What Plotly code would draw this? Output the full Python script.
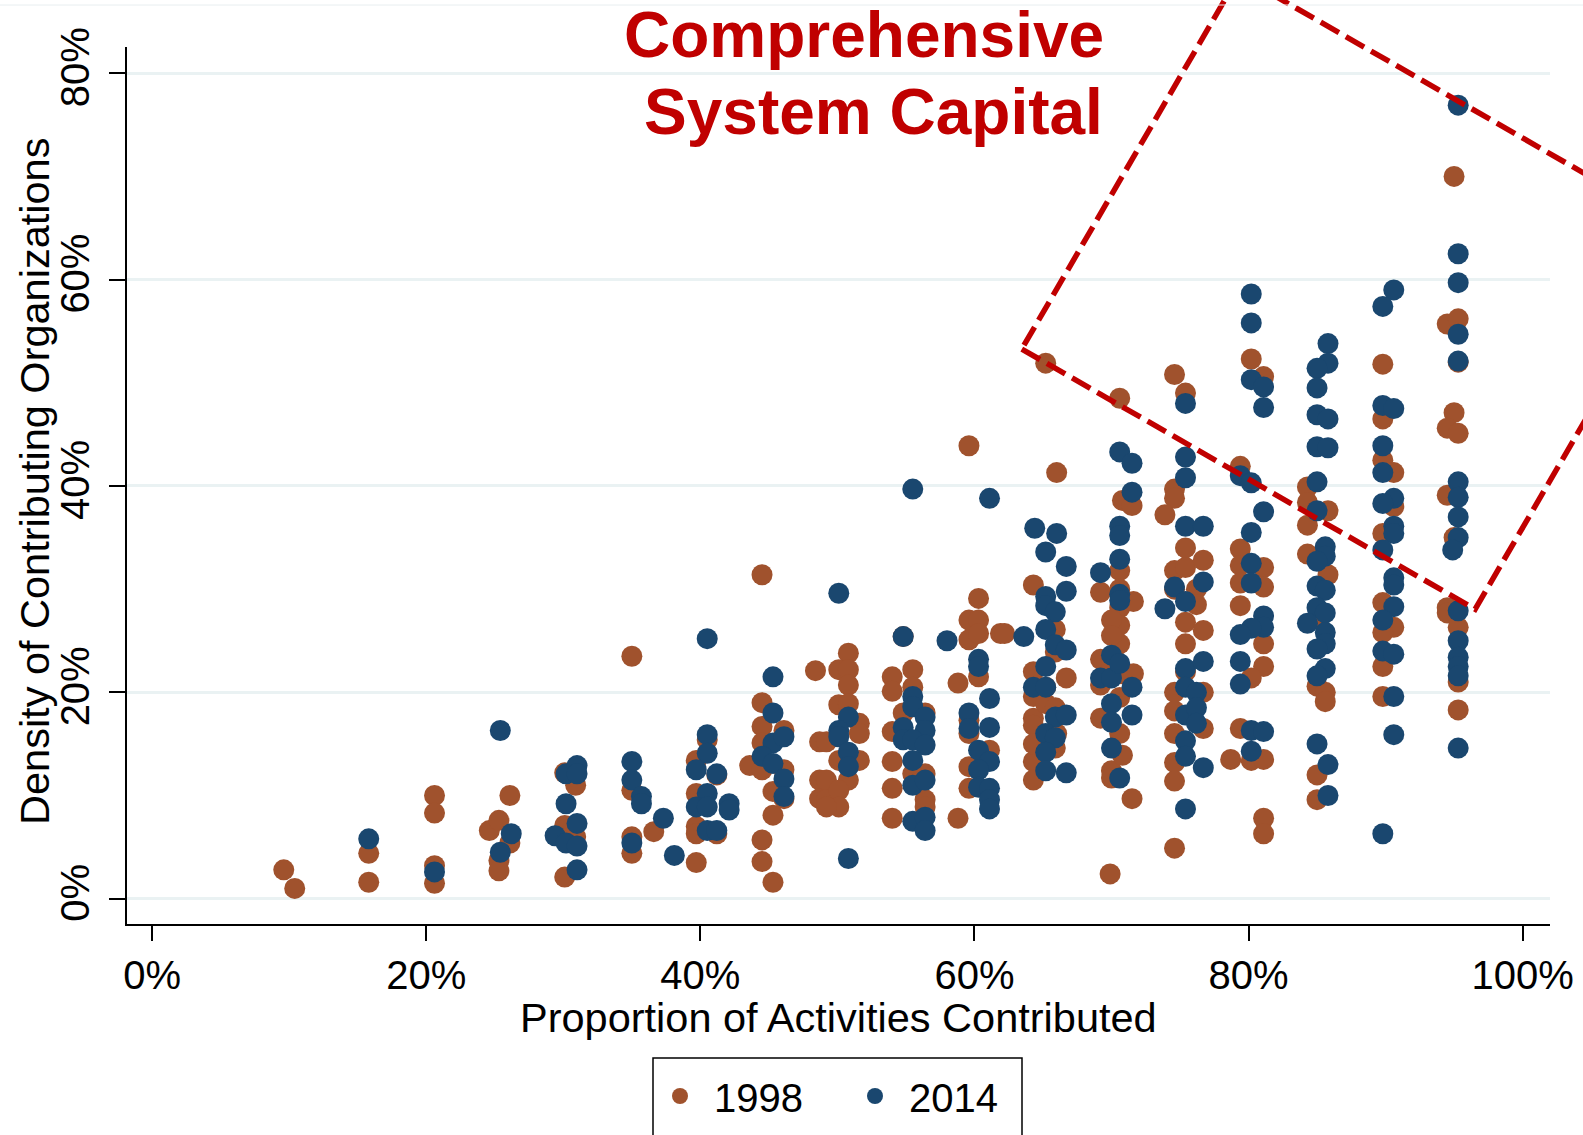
import plotly.graph_objects as go

# ---------------- data (percent units) ----------------
pts_1998 = [
    (9.6, 2.8), (10.4, 1.0),
    (15.8, 4.4), (15.8, 1.6),
    (20.6, 10.0), (20.6, 8.3), (20.6, 3.2), (20.6, 1.5),
    (24.6, 6.6), (25.3, 7.6), (25.3, 3.7), (25.3, 2.7), (26.1, 10.0), (26.1, 5.4),
    (30.1, 12.2), (30.1, 7.1), (30.1, 2.1), (30.9, 6.0), (30.9, 11.0),
    (35.0, 23.5), (35.0, 10.5), (35.0, 6.0), (35.0, 4.4), (36.6, 6.5),
    (39.7, 13.4), (39.7, 10.2), (39.7, 7.0), (39.7, 6.3), (39.7, 3.5), (40.5, 15.4), (41.2, 12.0), (41.2, 6.3),
    (44.5, 31.4), (44.5, 19.0), (44.5, 16.7), (44.5, 15.1), (43.6, 12.9), (44.5, 12.5), (45.3, 10.4),
    (45.3, 8.1), (44.5, 5.7), (44.5, 3.6), (45.3, 1.6), (46.1, 12.5), (46.1, 9.7), (46.1, 16.3), (48.4, 22.1),
    (48.7, 15.2), (48.7, 11.5), (48.7, 9.7), (50.8, 23.8), (50.1, 22.2), (50.8, 22.2), (50.8, 20.7),
    (50.1, 18.8), (50.8, 18.9), (51.6, 17.0), (51.6, 16.0), (49.2, 15.2), (50.1, 13.4), (51.6, 13.4),
    (49.2, 11.5), (50.8, 11.5), (49.2, 9.6), (50.1, 10.5), (50.1, 8.9), (49.2, 8.9),
    (54.8, 25.4), (54.0, 21.5), (55.5, 22.2), (54.0, 20.1), (55.5, 20.5), (54.8, 18.0), (56.4, 18.0),
    (54.0, 16.2), (54.0, 13.3), (56.4, 12.1), (55.5, 12.1), (54.0, 10.7), (56.4, 9.6), (56.4, 8.9), (54.0, 7.8),
    (59.6, 43.9), (60.3, 29.1), (59.6, 27.0), (60.3, 27.0), (61.9, 25.7), (59.6, 25.1), (60.3, 25.7),
    (60.3, 21.5), (58.8, 20.9), (59.6, 17.3), (59.6, 16.0), (61.1, 14.4), (59.6, 12.8), (59.6, 10.7), (58.8, 7.8),
    (65.2, 51.9), (66.0, 41.3), (64.3, 30.4), (65.9, 26.1), (65.9, 23.9), (66.7, 21.4), (64.3, 19.6),
    (64.3, 17.5), (64.3, 16.8), (65.2, 18.9), (65.9, 18.5), (65.9, 14.6), (64.3, 13.3), (64.3, 11.5),
    (62.2, 25.7), (64.3, 22.0), (65.2, 20.5), (66.0, 16.0), (64.3, 15.0),
    (70.6, 48.5), (70.8, 38.6), (71.5, 38.1), (69.2, 29.7), (70.6, 31.8), (70.6, 30.0), (70.6, 28.2),
    (70.6, 26.5), (70.6, 24.7), (71.6, 28.8), (69.2, 23.2), (69.2, 20.7), (69.2, 17.5), (70.0, 12.4),
    (70.0, 11.7), (70.8, 13.9), (71.5, 9.7), (69.9, 2.4), (70.8, 21.8), (71.6, 21.8), (70.0, 27.0),
    (70.0, 25.5), (70.0, 23.0), (70.6, 19.5), (70.6, 16.0),
    (74.6, 50.8), (75.4, 49.0), (74.6, 39.7), (74.6, 38.8), (73.9, 37.2), (74.6, 31.8), (74.6, 30.0),
    (75.4, 34.0), (75.4, 32.1), (76.7, 32.8), (75.4, 26.8), (75.4, 24.7), (74.6, 20.0), (74.6, 18.2),
    (74.6, 16.0), (74.6, 13.2), (74.6, 11.4), (74.6, 4.9), (76.2, 30.0), (76.2, 28.5), (76.7, 26.0),
    (76.7, 20.0), (75.4, 22.0), (76.7, 16.5),
    (80.2, 52.3), (81.1, 50.6), (79.4, 41.9), (79.4, 33.9), (79.4, 32.3), (81.1, 32.1), (79.4, 30.6),
    (81.1, 30.2), (79.4, 28.4), (81.1, 24.7), (81.1, 22.5), (80.2, 21.4), (79.4, 16.5), (78.7, 13.5),
    (80.2, 13.4), (81.1, 13.5), (81.1, 7.8), (81.1, 6.3),
    (84.3, 39.9), (84.3, 38.4), (84.3, 36.2), (85.8, 37.6), (84.3, 33.4), (85.8, 31.4), (85.0, 27.1),
    (85.0, 20.6), (85.6, 20.0), (85.6, 19.1), (85.0, 12.0), (85.0, 9.6),
    (89.8, 51.8), (89.8, 46.5), (89.8, 42.5), (90.6, 41.3), (89.8, 35.4), (89.8, 28.7), (90.6, 26.3),
    (89.8, 25.8), (89.8, 22.5), (89.8, 19.6), (90.6, 38.0),
    (95.0, 70.0), (94.5, 55.7), (95.3, 56.2), (95.3, 52.0), (95.0, 47.1), (94.5, 45.6), (95.3, 45.1),
    (94.5, 39.1), (95.0, 35.0), (94.5, 28.2), (94.5, 27.7), (95.3, 26.3), (95.3, 21.0), (95.3, 18.3),
]

pts_2014 = [
    (15.8, 5.8),
    (20.6, 2.6),
    (25.4, 16.3), (26.2, 6.3), (25.4, 4.5),
    (29.4, 6.1), (30.2, 12.1), (30.2, 9.2), (30.2, 5.4), (31.0, 12.9), (31.0, 12.1), (31.0, 7.3), (31.0, 5.1), (31.0, 2.8),
    (35.0, 13.3), (35.0, 11.5), (35.7, 9.9), (35.7, 9.2), (35.0, 5.4), (37.3, 7.8), (38.1, 4.2),
    (40.5, 25.2), (40.5, 15.9), (40.5, 14.1), (39.7, 12.5), (41.2, 12.1), (40.5, 10.2), (39.7, 8.9),
    (40.5, 8.9), (42.1, 9.2), (42.1, 8.6), (40.5, 6.6), (41.2, 6.6),
    (45.3, 21.5), (45.3, 18.0), (45.3, 15.1), (46.1, 15.7), (44.5, 13.8), (45.3, 13.1), (46.1, 11.6), (46.1, 9.9),
    (50.1, 29.6), (50.8, 17.6), (50.1, 16.3), (50.1, 15.7), (50.8, 14.2), (50.8, 12.8), (50.8, 3.9),
    (55.5, 39.7), (54.8, 25.4), (55.5, 19.6), (55.5, 18.6), (56.4, 17.6), (54.8, 16.6), (54.8, 15.4),
    (56.4, 16.3), (55.5, 15.4), (56.4, 14.9), (55.5, 13.4), (55.5, 11.0), (56.4, 11.5), (55.5, 7.5),
    (56.4, 7.9), (56.4, 6.6),
    (61.1, 38.8), (58.0, 25.0), (60.3, 23.2), (60.3, 22.5), (61.1, 19.4), (59.6, 18.0), (59.6, 16.5),
    (61.1, 16.6), (60.3, 14.4), (61.1, 13.3), (60.3, 12.5), (60.3, 10.8), (61.1, 10.7), (61.1, 9.6), (61.1, 8.7),
    (64.4, 35.9), (66.0, 35.4), (65.2, 33.6), (66.7, 32.2), (66.7, 29.8), (65.2, 29.3), (65.2, 28.4),
    (65.9, 27.8), (63.6, 25.4), (65.2, 26.1), (65.9, 24.6), (66.7, 24.1), (65.2, 22.5), (64.3, 20.5),
    (65.2, 20.5), (65.9, 17.6), (66.7, 17.8), (65.2, 16.0), (65.9, 15.6), (65.2, 14.2), (65.2, 12.4), (66.7, 12.2),
    (70.6, 43.3), (71.5, 42.2), (71.5, 39.4), (70.6, 36.1), (70.6, 35.2), (70.6, 32.9), (70.6, 29.5),
    (70.6, 28.9), (69.2, 31.6), (69.2, 21.4), (70.0, 23.6), (70.0, 21.4), (70.6, 22.8), (71.5, 20.5),
    (70.0, 18.9), (70.0, 17.1), (70.0, 14.6), (71.5, 17.8), (70.6, 11.7),
    (75.4, 48.0), (75.4, 42.8), (75.4, 40.8), (75.4, 36.1), (76.7, 36.1), (76.7, 30.7), (74.6, 30.2),
    (73.9, 28.1), (75.4, 28.8), (75.4, 22.3), (76.7, 23.0), (75.4, 20.5), (75.4, 17.8), (75.4, 15.3),
    (75.4, 13.8), (76.7, 12.7), (75.4, 8.7), (76.2, 20.0), (76.2, 18.5), (76.2, 17.0),
    (80.2, 58.6), (80.2, 55.8), (80.2, 50.3), (81.1, 49.6), (81.1, 47.6), (79.4, 41.0), (80.2, 40.3),
    (81.1, 37.5), (80.2, 35.5), (80.2, 32.5), (80.2, 30.6), (81.1, 27.4), (81.1, 26.3), (80.2, 26.2),
    (79.4, 25.6), (79.4, 23.0), (79.4, 20.8), (80.2, 16.3), (81.1, 16.2), (80.2, 14.3),
    (85.8, 53.8), (85.8, 51.9), (85.0, 51.4), (85.0, 49.5), (85.0, 46.9), (85.8, 46.5), (85.0, 43.8),
    (85.8, 43.7), (85.0, 40.4), (85.0, 37.6), (85.6, 34.1), (85.6, 33.2), (85.0, 32.7), (85.0, 30.3),
    (85.6, 29.9), (85.0, 28.2), (85.6, 27.7), (84.3, 26.7), (85.6, 25.8), (85.6, 24.7), (85.0, 24.2),
    (85.6, 22.3), (85.0, 21.6), (85.0, 15.0), (85.8, 13.0), (85.8, 10.0),
    (90.6, 59.0), (89.8, 57.4), (89.8, 47.8), (90.6, 47.5), (89.8, 43.9), (89.8, 41.3), (90.6, 38.8),
    (89.8, 38.3), (90.6, 36.1), (90.6, 35.4), (89.8, 33.8), (90.6, 31.1), (90.6, 30.4), (90.6, 28.3),
    (89.8, 27.0), (89.8, 24.0), (90.6, 23.7), (90.6, 19.6), (90.6, 15.9), (89.8, 6.3),
    (95.3, 76.9), (95.3, 62.5), (95.3, 59.7), (95.3, 54.7), (95.3, 52.1), (95.3, 40.4), (95.3, 38.9),
    (95.3, 37.0), (95.3, 35.0), (94.9, 33.8), (95.3, 27.9), (95.3, 25.0), (95.3, 23.4), (95.3, 22.5),
    (95.3, 21.6), (95.3, 14.6),
]

x_ticks = [0, 20, 40, 60, 80, 100]
y_ticks = [0, 20, 40, 60, 80]
series_names = ["1998", "2014"]
x_title = "Proportion of Activities Contributed"
y_title = "Density of Contributing Organizations"

# dashed highlight box corners (data units)
box_x = [63.45, 96.54, 112.41, 79.31]
box_y = [53.27, 28.05, 64.27, 89.48]

# ---------------- styling ----------------
W, H = 1583, 1135
ML, MR, MT, MB = 127, 33, 47, 211
XR = [-1.84, 102.0]
YR = [-2.45, 82.54]
FONT = "Liberation Sans, Arial, sans-serif"
BROWN = "#A0522D"
NAVY = "#1A476F"
RED = "#C00000"

pw = W - ML - MR
ph = H - MT - MB


def px_x(xpix):
    return (xpix - ML) / pw


def px_y(ypix):
    return (H - MB - ypix) / ph


x98, y98 = zip(*pts_1998)
x14, y14 = zip(*pts_2014)

fig = go.Figure()
fig.add_trace(go.Scatter(x=x98, y=y98, mode="markers", name=series_names[0],
                         marker=dict(color=BROWN, size=21, line=dict(width=0)),
                         cliponaxis=False))
fig.add_trace(go.Scatter(x=x14, y=y14, mode="markers", name=series_names[1],
                         marker=dict(color=NAVY, size=21, line=dict(width=0)),
                         cliponaxis=False))


def to_paper(x, y):
    return ((x - XR[0]) / (XR[1] - XR[0]), (y - YR[0]) / (YR[1] - YR[0]))


pp = [to_paper(a, b) for a, b in zip(box_x, box_y)]
path = "M " + " L ".join(f"{a:.4f},{b:.4f}" for a, b in pp) + " Z"
shapes = [
    dict(type="path", xref="paper", yref="paper", path=path,
         line=dict(color=RED, width=5.5, dash="21px,8px"), layer="above"),
    # legend frame
    dict(type="rect", xref="paper", yref="paper",
         x0=px_x(653), x1=px_x(1022), y0=px_y(1058), y1=px_y(1145),
         line=dict(color="black", width=1.5)),
    # faint top border line
    dict(type="line", xref="paper", yref="paper",
         x0=px_x(0), x1=px_x(W), y0=px_y(5), y1=px_y(5),
         line=dict(color="#E8EEF0", width=1)),
]

annotations = [
    dict(text="Comprehensive", xref="paper", yref="paper",
         x=px_x(1106), y=px_y(35), xanchor="right", yanchor="middle",
         showarrow=False, font=dict(family=FONT, size=64, color=RED, weight="bold")),
    dict(text="System Capital", xref="paper", yref="paper",
         x=px_x(1105), y=px_y(112), xanchor="right", yanchor="middle",
         showarrow=False, font=dict(family=FONT, size=64, color=RED, weight="bold")),
    # axis titles
    dict(text=x_title, xref="paper", yref="paper",
         x=0.5, y=px_y(1017), xanchor="center", yanchor="middle",
         showarrow=False, font=dict(family=FONT, size=41.5, color="black")),
    dict(text=y_title, xref="paper", yref="paper", textangle=-90,
         x=px_x(34), y=px_y(482), xanchor="center", yanchor="middle",
         showarrow=False, font=dict(family=FONT, size=41.5, color="black")),
]

fig.update_layout(
    width=W, height=H,
    margin=dict(l=ML, r=MR, t=MT, b=MB, autoexpand=False),
    paper_bgcolor="white", plot_bgcolor="white",
    font=dict(family=FONT, size=40, color="black"),
    showlegend=True,
    legend=dict(orientation="h", x=px_x(646), xanchor="left",
                y=px_y(1096), yanchor="middle",
                font=dict(family=FONT, size=40, color="black"),
                bgcolor="rgba(0,0,0,0)", borderwidth=0, itemwidth=58,
                entrywidth=122, traceorder="normal"),
    shapes=shapes,
    annotations=annotations,
    xaxis=dict(range=XR, tickvals=x_ticks, ticktext=[f"{v}%" for v in x_ticks],
               showgrid=False, zeroline=False, showline=True, linecolor="black", linewidth=2,
               ticks="outside", ticklen=15, tickwidth=1.5, tickcolor="black",
               ticklabelstandoff=0,
               tickfont=dict(family=FONT, size=40, color="black")),
    yaxis=dict(range=YR, tickvals=y_ticks, ticktext=[f"{v}%" for v in y_ticks],
               tickangle=-90,
               showgrid=True, gridcolor="#EAF2F3", gridwidth=3,
               zeroline=False, showline=True, linecolor="black", linewidth=2,
               ticks="outside", ticklen=16, tickwidth=1.5, tickcolor="black",
               ticklabelstandoff=4,
               tickfont=dict(family=FONT, size=40, color="black")),
)

fig.write_html("out.html")
